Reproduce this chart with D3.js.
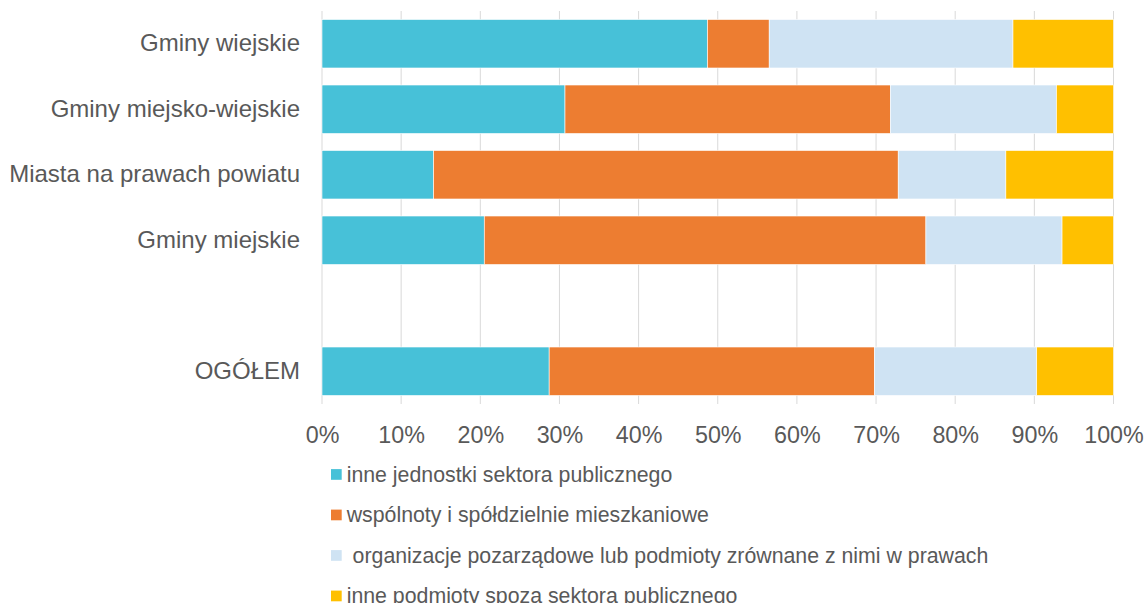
<!DOCTYPE html>
<html>
<head>
<meta charset="utf-8">
<script src="https://cdn.jsdelivr.net/npm/d3@7"></script>
<style>
    body { margin: 0; background: #fff; }
    svg text { font-family: "Liberation Sans", Arial, sans-serif; fill: #595959; }
    .grid line { stroke: #d9d9d9; stroke-width: 1; }
    .legend text { white-space: pre; }
</style>
</head>
<body>
<div id="chart"></div>
<script>
// rows of the chart, "" is the empty gap above OGÓŁEM
const rows = ["Gminy wiejskie", "Gminy miejsko-wiejskie", "Miasta na prawach powiatu", "Gminy miejskie", "", "OGÓŁEM"];
const categories = ["Gminy wiejskie", "Gminy miejsko-wiejskie", "Miasta na prawach powiatu", "Gminy miejskie", "OGÓŁEM"];

// shares in %
const publiczne = [48.7, 30.7, 14.1, 20.5, 28.7];
const wspolnoty = [7.8, 41.1, 58.7, 55.8, 41.1];
const organizacje = [30.8, 21.0, 13.6, 17.2, 20.5];
const inne = [12.7, 7.2, 13.6, 6.5, 9.7];

const seriesNames = [
    "inne jednostki sektora publicznego",
    "wspólnoty i spółdzielnie mieszkaniowe",
    " organizacje pozarządowe lub podmioty zrównane z nimi w prawach",
    "inne podmioty spoza sektora publicznego"
];
const colors = ["#47C1D8", "#ED7D31", "#CFE3F3", "#FFC000"];
const ticks = [0, 0.1, 0.2, 0.3, 0.4, 0.5, 0.6, 0.7, 0.8, 0.9, 1];

const width = 1147, height = 603;
const plot = {left: 322, right: 1113.5, top: 11, bottom: 404};

const svg = d3.select("#chart").append("svg")
    .attr("width", width)
    .attr("height", height);

const table = categories.map(function (c, i) {
    return {name: c, s0: publiczne[i], s1: wspolnoty[i], s2: organizacje[i], s3: inne[i]};
});
const keys = ["s0", "s1", "s2", "s3"];
const stacked = d3.stack().keys(keys).offset(d3.stackOffsetExpand)(table);

const x = d3.scaleLinear().domain([0, 1]).range([plot.left, plot.right]);
const y = d3.scaleBand().domain(rows).range([plot.top, plot.bottom])
    .paddingInner(0.26).paddingOuter(0.13);

// vertical gridlines
svg.append("g").attr("class", "grid")
    .selectAll("line").data(ticks).enter().append("line")
    .attr("x1", d => x(d)).attr("x2", d => x(d))
    .attr("y1", plot.top).attr("y2", plot.bottom);

// bars
svg.append("g").selectAll("g")
    .data(stacked).enter().append("g")
    .attr("fill", (d, i) => colors[i])
    .selectAll("rect")
    .data(d => d).enter().append("rect")
    .attr("x", d => x(d[0]))
    .attr("width", d => x(d[1]) - x(d[0]))
    .attr("y", d => y(d.data.name))
    .attr("height", y.bandwidth())
    .attr("stroke", "#fff")
    .attr("stroke-width", 0.6);

// category axis
const yAxis = svg.append("g")
    .attr("transform", `translate(${plot.left},0)`)
    .call(d3.axisLeft(y).tickSize(0).tickPadding(22));
yAxis.select(".domain").remove();
yAxis.selectAll("text")
    .style("font-size", "24px")
    .attr("fill", null);

// percent axis
const xAxis = svg.append("g")
    .attr("transform", `translate(0,${plot.bottom})`)
    .call(d3.axisBottom(x).tickValues(ticks).tickFormat(d3.format(".0%")).tickSize(0).tickPadding(22));
xAxis.select(".domain").remove();
xAxis.selectAll("text")
    .style("font-size", "23.3px")
    .attr("fill", null);

// legend
const legendY = [474.5, 515, 555.5, 596];
const legend = svg.append("g").attr("class", "legend")
    .selectAll("g").data(seriesNames).enter().append("g")
    .attr("transform", (d, i) => `translate(331,${legendY[i]})`);

legend.append("rect")
    .attr("x", 0).attr("y", -5.4)
    .attr("width", 10.7).attr("height", 10.7)
    .attr("fill", (d, i) => colors[i]);

legend.append("text")
    .attr("x", 15.7)
    .attr("dy", "0.34em")
    .style("font-size", "21.3px")
    .text(d => d);
</script>
</body>
</html>
